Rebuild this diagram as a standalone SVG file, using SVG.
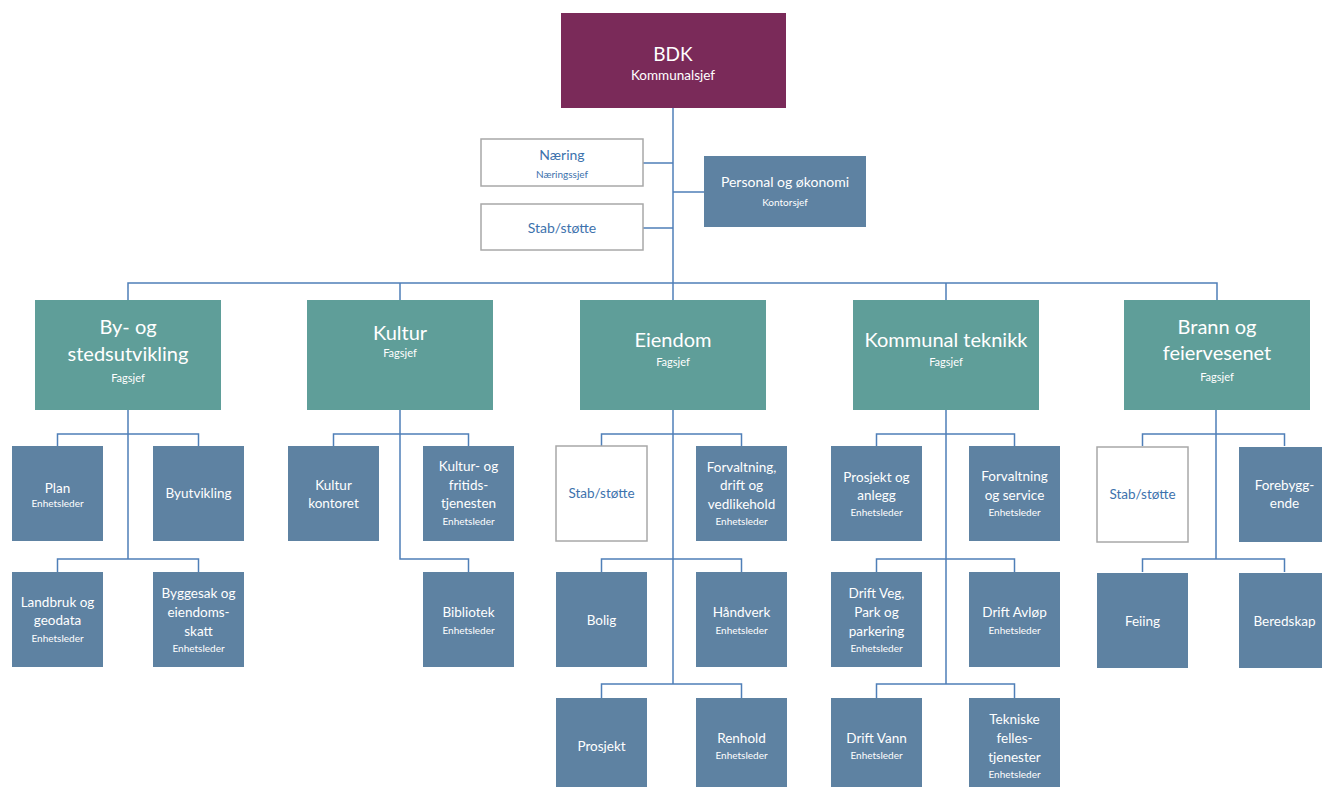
<svg xmlns="http://www.w3.org/2000/svg" width="1322" height="787" viewBox="0 0 1322 787">
<style>
text{font-family:Lato,"Open Sans","Liberation Sans",sans-serif;text-anchor:middle;fill:#fff}
.top{fill:#7a2a59}
.hd{fill:#5f9e99}
.bx{fill:#5e82a2}
.wb{fill:#fff;stroke:#a8a8a8;stroke-width:1.5}
.wt{fill:#3d72ad}
.t13{font-size:13.5px}
.t10{font-size:10px}
.t20{font-size:20px}
.t11{font-size:11px}
#connectors path{fill:none;stroke:#4f7fb8;stroke-width:1.5}
</style>
<rect width="1322" height="787" fill="#fff"/>
<g id="connectors">
<path d="M673 108V684"/>
<path d="M643 163H673M643 228H673M673 192H704"/>
<path d="M128 300V283H1217V300M400 283V300M946 283V300"/>
<path d="M128 410V559M57.5 446V434H198.5V446M57.5 572V559H198.5V572"/>
<path d="M400 410V559H468.5V572M333.5 446V434H468.5V446"/>
<path d="M601.5 446V434H741.5V446M601.5 572V559H741.5V572M601.5 698V684H741.5V698"/>
<path d="M946 410V684M876.5 446V434H1014.5V446M876.5 572V559H1014.5V572M876.5 698V684H1014.5V698"/>
<path d="M1216 410V559M1142.5 446V434H1284.5V446M1142.5 572V559H1284.5V572"/>
</g>
<g id="bdk"><rect class="top" x="561" y="13" width="225" height="95"/><text x="673" y="61" font-size="19">BDK</text><text x="673" y="80" font-size="13.5">Kommunalsjef</text></g>
<g id="naering"><rect class="wb" x="481" y="139" width="162" height="47"/><text class="wt" x="562" y="160" font-size="14">Næring</text><text class="wt" x="562" y="178" font-size="10">Næringssjef</text></g>
<g id="stab-top"><rect class="wb" x="481" y="204" width="162" height="46"/><text class="wt" x="562" y="233" font-size="14">Stab/støtte</text></g>
<g id="personal"><rect class="bx" x="704" y="156" width="162" height="71"/><text x="785" y="187" font-size="14">Personal og økonomi</text><text x="785" y="206" font-size="10">Kontorsjef</text></g>

<g id="by-og-sted"><rect class="hd" x="35" y="300" width="186" height="110"/><text class="t20" x="128" y="334">By- og</text><text class="t20" x="128" y="361">stedsutvikling</text><text class="t11" x="128" y="382">Fagsjef</text></g>
<g id="kultur"><rect class="hd" x="307" y="300" width="186" height="110"/><text class="t20" x="400" y="340">Kultur</text><text class="t11" x="400" y="357">Fagsjef</text></g>
<g id="eiendom"><rect class="hd" x="580" y="300" width="186" height="110"/><text class="t20" x="673" y="347">Eiendom</text><text class="t11" x="673" y="366">Fagsjef</text></g>
<g id="kommunal-teknikk"><rect class="hd" x="853" y="300" width="186" height="110"/><text class="t20" x="946" y="347">Kommunal teknikk</text><text class="t11" x="946" y="366">Fagsjef</text></g>
<g id="brann"><rect class="hd" x="1124" y="300" width="186" height="110"/><text class="t20" x="1217" y="334">Brann og</text><text class="t20" x="1217" y="360">feiervesenet</text><text class="t11" x="1217" y="381">Fagsjef</text></g>

<g id="plan"><rect class="bx" x="12" y="446" width="91" height="95"/><text class="t13" x="57.5" y="493">Plan</text><text class="t10" x="57.5" y="507">Enhetsleder</text></g>
<g id="byutvikling"><rect class="bx" x="153" y="446" width="91" height="95"/><text class="t13" x="198.5" y="498">Byutvikling</text></g>
<g id="landbruk"><rect class="bx" x="12" y="572" width="91" height="95"/><text class="t13" x="57.5" y="607">Landbruk og</text><text class="t13" x="57.5" y="625">geodata</text><text class="t10" x="57.5" y="642">Enhetsleder</text></g>
<g id="byggesak"><rect class="bx" x="153" y="572" width="91" height="95"/><text class="t13" x="198.5" y="598">Byggesak og</text><text class="t13" x="198.5" y="617">eiendoms-</text><text class="t13" x="198.5" y="636">skatt</text><text class="t10" x="198.5" y="652">Enhetsleder</text></g>

<g id="kulturkontoret"><rect class="bx" x="288" y="446" width="91" height="95"/><text class="t13" x="333.5" y="490">Kultur</text><text class="t13" x="333.5" y="508">kontoret</text></g>
<g id="kultur-fritid"><rect class="bx" x="423" y="446" width="91" height="95"/><text class="t13" x="468.5" y="471">Kultur- og</text><text class="t13" x="468.5" y="490">fritids-</text><text class="t13" x="468.5" y="508">tjenesten</text><text class="t10" x="468.5" y="525">Enhetsleder</text></g>
<g id="bibliotek"><rect class="bx" x="423" y="572" width="91" height="95"/><text class="t13" x="468.5" y="617">Bibliotek</text><text class="t10" x="468.5" y="634">Enhetsleder</text></g>

<g id="stab-eiendom"><rect class="wb" x="556" y="446" width="91" height="95"/><text class="wt t13" x="601.5" y="498">Stab/støtte</text></g>
<g id="forvaltning-drift"><rect class="bx" x="696" y="446" width="91" height="95"/><text class="t13" x="741.5" y="472">Forvaltning,</text><text class="t13" x="741.5" y="490">drift og</text><text class="t13" x="741.5" y="509">vedlikehold</text><text class="t10" x="741.5" y="525">Enhetsleder</text></g>
<g id="bolig"><rect class="bx" x="556" y="572" width="91" height="95"/><text class="t13" x="601.5" y="625">Bolig</text></g>
<g id="handverk"><rect class="bx" x="696" y="572" width="91" height="95"/><text class="t13" x="741.5" y="617">Håndverk</text><text class="t10" x="741.5" y="634">Enhetsleder</text></g>
<g id="prosjekt"><rect class="bx" x="556" y="698" width="91" height="95"/><text class="t13" x="601.5" y="751">Prosjekt</text></g>
<g id="renhold"><rect class="bx" x="696" y="698" width="91" height="95"/><text class="t13" x="741.5" y="743">Renhold</text><text class="t10" x="741.5" y="759">Enhetsleder</text></g>

<g id="prosjekt-anlegg"><rect class="bx" x="831" y="446" width="91" height="95"/><text class="t13" x="876.5" y="482">Prosjekt og</text><text class="t13" x="876.5" y="500">anlegg</text><text class="t10" x="876.5" y="516">Enhetsleder</text></g>
<g id="forvaltning-service"><rect class="bx" x="969" y="446" width="91" height="95"/><text class="t13" x="1014.5" y="481">Forvaltning</text><text class="t13" x="1014.5" y="500">og service</text><text class="t10" x="1014.5" y="516">Enhetsleder</text></g>
<g id="drift-veg"><rect class="bx" x="831" y="572" width="91" height="95"/><text class="t13" x="876.5" y="598">Drift Veg,</text><text class="t13" x="876.5" y="617">Park og</text><text class="t13" x="876.5" y="636">parkering</text><text class="t10" x="876.5" y="652">Enhetsleder</text></g>
<g id="drift-avlop"><rect class="bx" x="969" y="572" width="91" height="95"/><text class="t13" x="1014.5" y="617">Drift Avløp</text><text class="t10" x="1014.5" y="634">Enhetsleder</text></g>
<g id="drift-vann"><rect class="bx" x="831" y="698" width="91" height="95"/><text class="t13" x="876.5" y="743">Drift Vann</text><text class="t10" x="876.5" y="759">Enhetsleder</text></g>
<g id="tekniske"><rect class="bx" x="969" y="698" width="91" height="95"/><text class="t13" x="1014.5" y="724">Tekniske</text><text class="t13" x="1014.5" y="743">felles-</text><text class="t13" x="1014.5" y="762">tjenester</text><text class="t10" x="1014.5" y="778">Enhetsleder</text></g>

<g id="stab-brann"><rect class="wb" x="1097" y="447" width="91" height="95"/><text class="wt t13" x="1142.5" y="499">Stab/støtte</text></g>
<g id="forebyggende"><rect class="bx" x="1239" y="447" width="91" height="95"/><text class="t13" x="1284.5" y="490">Forebygg-</text><text class="t13" x="1284.5" y="508">ende</text></g>
<g id="feiing"><rect class="bx" x="1097" y="573" width="91" height="95"/><text class="t13" x="1142.5" y="626">Feiing</text></g>
<g id="beredskap"><rect class="bx" x="1239" y="573" width="91" height="95"/><text class="t13" x="1284.5" y="626">Beredskap</text></g>
</svg>
